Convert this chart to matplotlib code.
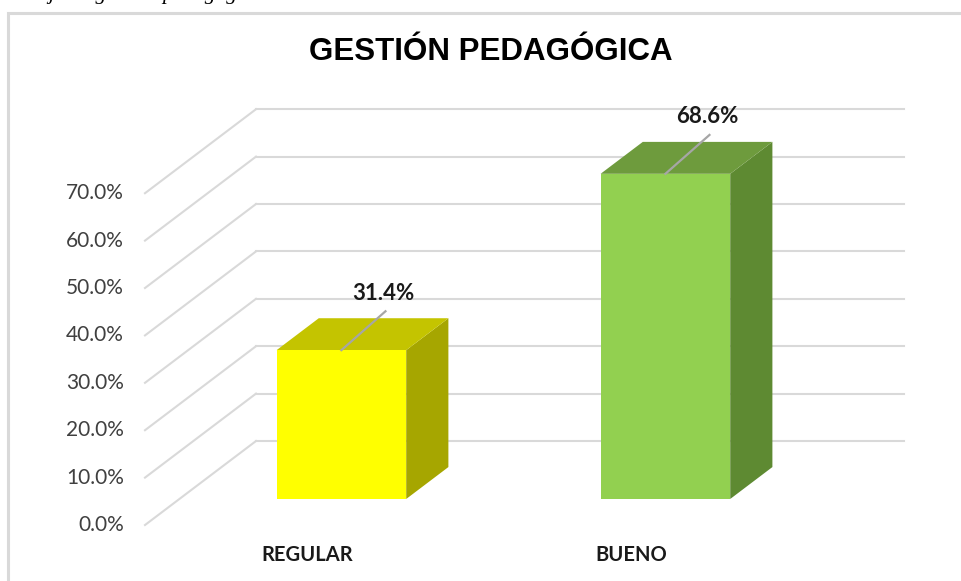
import numpy as np
import matplotlib.pyplot as plt
from matplotlib.patches import Polygon, Rectangle

# datos
categorias = ['REGULAR', 'BUENO']
porcentajes = [31.4, 68.6]
ticks = [0, 10, 20, 30, 40, 50, 60, 70]

# colores de las caras (frente, techo, lado)
col_frente = ['#FFFF00', '#92D050']
col_techo = ['#C4C400', '#6E9B3D']
col_lado = ['#A6A600', '#5E8A32']

# proyeccion oblicua tipo excel 3D, z = profundidad 0 (frente) .. 1 (fondo)
DX = 0.3426
DY = 17.72
Z0, Z1 = 0.31, 0.69
ANCHO = 0.40


def proy(x, v, z):
    return (x + DX * z, v + DY * z)


fig = plt.figure(figsize=(9.61, 5.81), dpi=100)
ax = fig.add_axes([0, 0, 1, 1])
ax.set_xlim(-0.9475, 2.0185)
ax.set_ylim(-11.81, 110.76)
ax.axis('off')

# marco del grafico
fig.patches.append(Rectangle((8 / 961, -0.05), 1.2, 1 - 13 / 581 + 0.05,
                             transform=fig.transFigure, fill=False,
                             edgecolor='#D9D9D9', lw=2.2, zorder=0))

gris = '#D9D9D9'
for t in ticks:
    # pared del fondo
    a = proy(-0.5, t, 1)
    b = proy(1.5, t, 1)
    ax.plot([a[0], b[0]], [a[1], b[1]], color=gris, lw=1.5, zorder=1)
    # pared lateral
    c = proy(-0.5, t, 0)
    ax.plot([c[0], a[0]], [c[1], a[1]], color=gris, lw=1.5, zorder=1)
    ax.text(c[0] - 0.065, c[1], f'{t:.1f}%', ha='right', va='center',
            fontsize=15, color='#404040', family='Lato')

for i, v in enumerate(porcentajes):
    x0 = i - ANCHO / 2
    x1 = i + ANCHO / 2
    lado = [proy(x1, 0, Z0), proy(x1, 0, Z1), proy(x1, v, Z1), proy(x1, v, Z0)]
    techo = [proy(x0, v, Z0), proy(x1, v, Z0), proy(x1, v, Z1), proy(x0, v, Z1)]
    frente = [proy(x0, 0, Z0), proy(x1, 0, Z0), proy(x1, v, Z0), proy(x0, v, Z0)]
    ax.add_patch(Polygon(lado, closed=True, facecolor=col_lado[i], edgecolor='none', zorder=3))
    ax.add_patch(Polygon(techo, closed=True, facecolor=col_techo[i], edgecolor='none', zorder=3))
    ax.add_patch(Polygon(frente, closed=True, facecolor=col_frente[i], edgecolor='none', zorder=4))

    # etiqueta de datos con linea guia
    ax0, ay0 = proy(i, v, Z0)
    ax.plot([ax0, ax0 + 0.136], [ay0, ay0 + 8.2], color='#A6A6A6', lw=1.6, zorder=5)
    ax.text(ax0 + 0.13, ay0 + 12.0, f'{v:.1f}%', ha='center', va='center',
            fontsize=16, fontweight='bold', color='#1A1A1A', family='Lato', zorder=6)

    # categoria
    cx, cy = proy(i, -6.4, 0)
    ax.text(cx, cy, categorias[i], ha='center', va='center', fontsize=14.5,
            fontweight='bold', color='#1A1A1A', family='Lato')

fig.text(491 / 961, 1 - 52 / 581, 'GESTIÓN PEDAGÓGICA', ha='center', va='center',
         fontsize=22.5, fontweight='bold', family='Liberation Sans', color='black')

# leyenda de la figura (recortada arriba, como en la captura)
fig.text(-0.03, 1 + 1 / 581, 'Porcentaje de gestión pedagógica.', va='baseline',
         ha='left', fontsize=15.5, style='italic', family='Liberation Serif', color='black')

fig.savefig('out.png', dpi=100)
